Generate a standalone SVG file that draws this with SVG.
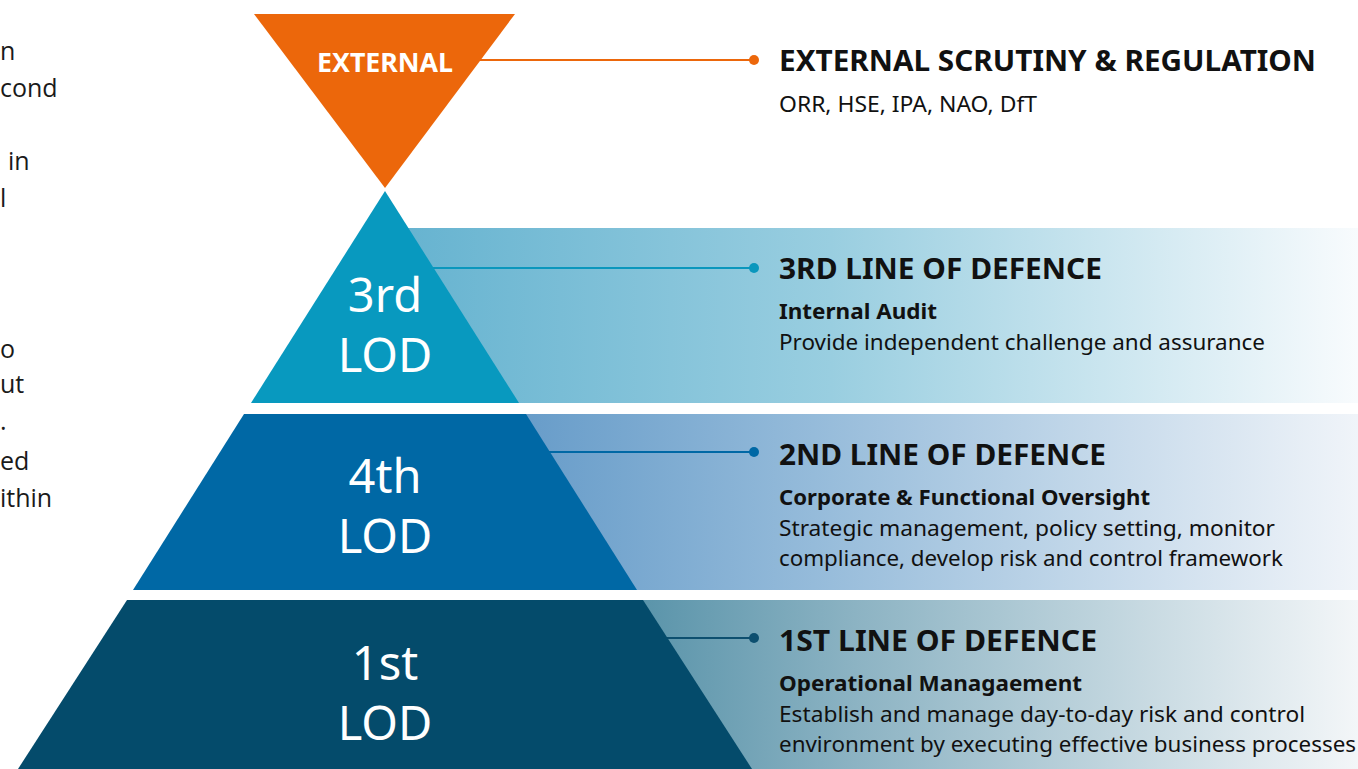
<svg xmlns="http://www.w3.org/2000/svg" width="1358" height="769" viewBox="0 0 1358 769">
  <defs>
    <linearGradient id="g3" gradientUnits="userSpaceOnUse" x1="400" y1="0" x2="1358" y2="0">
      <stop offset="0" stop-color="#66b3d0"/>
      <stop offset="0.45" stop-color="#99cee0"/>
      <stop offset="1" stop-color="#f8fbfd"/>
    </linearGradient>
    <linearGradient id="g2" gradientUnits="userSpaceOnUse" x1="520" y1="0" x2="1358" y2="0">
      <stop offset="0" stop-color="#679cc9"/>
      <stop offset="0.35" stop-color="#95bbda"/>
      <stop offset="1" stop-color="#f0f4f9"/>
    </linearGradient>
    <linearGradient id="g1" gradientUnits="userSpaceOnUse" x1="640" y1="0" x2="1358" y2="0">
      <stop offset="0" stop-color="#5a94aa"/>
      <stop offset="0.3" stop-color="#8cb3c3"/>
      <stop offset="1" stop-color="#f3f6f8"/>
    </linearGradient>
    <style>
      .side { font-family: "Open Sans", "Noto Sans", sans-serif; font-size: 25px; fill: #1a1a1a; }
      .lod { font-family: "Noto Sans", "Open Sans", sans-serif; font-size: 47px; fill: #ffffff; text-anchor: middle; }
      .head { font-family: "Noto Sans", "Open Sans", sans-serif; font-size: 29px; font-weight: bold; fill: #111111; }
      .sub { font-family: "Noto Sans", "Open Sans", sans-serif; font-size: 22px; font-weight: bold; fill: #111111; }
      .body { font-family: "Noto Sans", "Open Sans", sans-serif; font-size: 22px; fill: #111111; }
    </style>
  </defs>

  <rect width="1358" height="769" fill="#ffffff"/>

  <!-- word endings of the paragraph at the left margin -->
  <g id="side-text" class="side">
    <text x="0" y="60">n</text>
    <text x="0" y="97">cond</text>
    <text x="8" y="170">in</text>
    <text x="0" y="207">l</text>
    <text x="0" y="358">o</text>
    <text x="0" y="393">ut</text>
    <text x="0" y="430">.</text>
    <text x="0" y="470">ed</text>
    <text x="0" y="507">ithin</text>
  </g>

  <!-- gradient bands behind the pyramid -->
  <g id="bands">
    <rect x="385" y="228" width="973" height="175" fill="url(#g3)"/>
    <rect x="385" y="414" width="973" height="176" fill="url(#g2)"/>
    <rect x="385" y="600" width="973" height="169" fill="url(#g1)"/>
  </g>

  <!-- connectors -->
  <g id="connectors" stroke-width="2">
    <line x1="480" y1="60" x2="754" y2="60" stroke="#ec670b"/>
    <circle cx="754" cy="60" r="5" fill="#ec670b"/>
    <line x1="430" y1="268" x2="754" y2="268" stroke="#0a97bd"/>
    <circle cx="754" cy="268" r="5" fill="#0a97bd"/>
    <line x1="548" y1="452" x2="754" y2="452" stroke="#0068a5"/>
    <circle cx="754" cy="452" r="5" fill="#0068a5"/>
    <line x1="666" y1="638" x2="754" y2="638" stroke="#0d4f6f"/>
    <circle cx="754" cy="638" r="5" fill="#0d4f6f"/>
  </g>

  <g id="external">
    <polygon points="254,14 515,14 385,188" fill="#ec670b"/>
    <text x="385" y="72" text-anchor="middle" font-family="Noto Sans, Open Sans, sans-serif" font-size="27" font-weight="bold" fill="#ffffff" textLength="136" lengthAdjust="spacingAndGlyphs">EXTERNAL</text>
  </g>

  <g id="lod3">
    <polygon points="385,191 519,403 251,403" fill="#0899bf"/>
    <text class="lod" x="385" y="312">3rd</text>
    <text class="lod" x="385" y="372">LOD</text>
  </g>

  <g id="lod4">
    <polygon points="244,414 526,414 637,590 133,590" fill="#0068a5"/>
    <text class="lod" x="385" y="493">4th</text>
    <text class="lod" x="385" y="553">LOD</text>
  </g>

  <g id="lod1">
    <polygon points="127,600 643,600 752,769 18,769" fill="#044b6b"/>
    <text class="lod" x="385" y="680">1st</text>
    <text class="lod" x="385" y="740">LOD</text>
  </g>

  <g id="label-external">
    <text class="head" x="779" y="71" textLength="537" lengthAdjust="spacingAndGlyphs">EXTERNAL SCRUTINY &amp; REGULATION</text>
    <text class="body" x="779" y="112" textLength="258" lengthAdjust="spacingAndGlyphs">ORR, HSE, IPA, NAO, DfT</text>
  </g>

  <g id="label-3rd">
    <text class="head" x="779" y="279" textLength="323" lengthAdjust="spacingAndGlyphs">3RD LINE OF DEFENCE</text>
    <text class="sub" x="779" y="319" textLength="158" lengthAdjust="spacingAndGlyphs">Internal Audit</text>
    <text class="body" x="779" y="350" textLength="486" lengthAdjust="spacingAndGlyphs">Provide independent challenge and assurance</text>
  </g>

  <g id="label-2nd">
    <text class="head" x="779" y="465" textLength="327" lengthAdjust="spacingAndGlyphs">2ND LINE OF DEFENCE</text>
    <text class="sub" x="779" y="505" textLength="371" lengthAdjust="spacingAndGlyphs">Corporate &amp; Functional Oversight</text>
    <text class="body" x="779" y="536" textLength="496" lengthAdjust="spacingAndGlyphs">Strategic management, policy setting, monitor</text>
    <text class="body" x="779" y="566" textLength="504" lengthAdjust="spacingAndGlyphs">compliance, develop risk and control framework</text>
  </g>

  <g id="label-1st">
    <text class="head" x="779" y="651" textLength="318" lengthAdjust="spacingAndGlyphs">1ST LINE OF DEFENCE</text>
    <text class="sub" x="779" y="691" textLength="303" lengthAdjust="spacingAndGlyphs">Operational Managaement</text>
    <text class="body" x="779" y="722" textLength="526" lengthAdjust="spacingAndGlyphs">Establish and manage day-to-day risk and control</text>
    <text class="body" x="779" y="752" textLength="577" lengthAdjust="spacingAndGlyphs">environment by executing effective business processes</text>
  </g>
</svg>
